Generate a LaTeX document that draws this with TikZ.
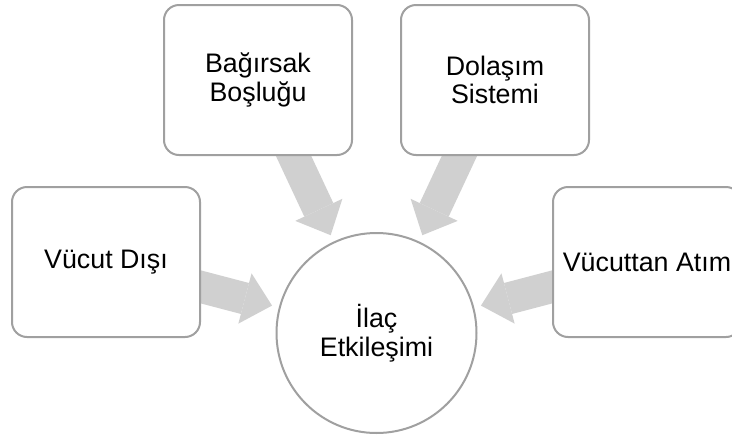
\documentclass[tikz,border=0pt]{standalone}
\usepackage{fontspec}
\setmainfont{Liberation Sans}
\usetikzlibrary{arrows.meta,calc}
\definecolor{bordergray}{HTML}{A0A0A0}
\definecolor{arrowgray}{HTML}{D0D0D0}
\tikzset{
  box/.style={draw=bordergray, line width=2pt, fill=white, rounded corners=15pt,
    minimum width=188pt, minimum height=150pt, inner sep=0pt, align=center,
    font=\fontsize{26.8}{28.5}\selectfont},
  hub/.style={draw=bordergray, line width=2pt, fill=white, circle,
    minimum size=200pt, inner sep=0pt, align=center,
    font=\fontsize{26.8}{28.5}\selectfont},
  bigarrow/.style={draw=arrowgray, line width=32pt,
    -{Triangle[width=52pt,length=28pt,line width=0pt]}}
}
\begin{document}
\begin{tikzpicture}[x=1pt,y=-1pt]
\clip (0,0) rectangle (732,437);
\fill[white] (0,0) rectangle (732,437);
\coordinate (c) at (376.5,333);
\coordinate (p1) at (106,262);
\coordinate (p2) at (258,80);
\coordinate (p3) at (495,80);
\coordinate (p4) at (647,262);
\draw[bigarrow] (p1) -- ($(c)!108pt!(p1)$);
\draw[bigarrow] (p2) -- ($(c)!108pt!(p2)$);
\draw[bigarrow] (p3) -- ($(c)!108pt!(p3)$);
\draw[bigarrow] (p4) -- ($(c)!108pt!(p4)$);
\node[box] (vd) at (p1) {Vücut Dışı};
\node[box] (bb) at (p2) {Bağırsak\\Boşluğu};
\node[box] (ds) at (p3) {Dolaşım\\Sistemi};
\node[box] (va) at (p4) {Vücuttan Atım};
\node[hub] (ie) at (c) {İlaç\\Etkileşimi};
\end{tikzpicture}
\end{document}
